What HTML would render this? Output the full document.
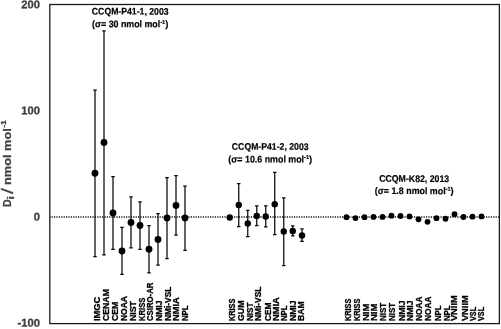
<!DOCTYPE html>
<html><head><meta charset="utf-8"><title>Degrees of equivalence</title>
<style>html,body{margin:0;padding:0;background:#fff}svg{display:block}text{font-family:"Liberation Sans",sans-serif;font-weight:bold}</style></head><body>
<svg width="501" height="329" viewBox="0 0 501 329">
<rect width="501" height="329" fill="#fff"/>
<line x1="49.8" y1="217.0" x2="499.4" y2="217.0" stroke="#111" stroke-width="1.5" stroke-dasharray="1.2 1.2" stroke-dashoffset="0.6"/>
<rect x="49.8" y="4.5" width="449.59999999999997" height="319.1" fill="none" stroke="#1a1a1a" stroke-width="1.3"/>
<text transform="translate(39.9,8.30) rotate(0.15)" text-anchor="end" font-size="11.2" fill="#404040" stroke="#404040" stroke-width="0.3">200</text>
<text transform="translate(39.9,114.20) rotate(0.15)" text-anchor="end" font-size="11.2" fill="#404040" stroke="#404040" stroke-width="0.3">100</text>
<text transform="translate(39.9,220.50) rotate(0.15)" text-anchor="end" font-size="11.2" fill="#404040" stroke="#404040" stroke-width="0.3">0</text>
<text transform="translate(39.9,326.65) rotate(0.15)" text-anchor="end" font-size="11.2" fill="#404040" stroke="#404040" stroke-width="0.3">-100</text>
<g fill="#404040" stroke="#404040" stroke-width="0.25">
<text transform="translate(10.9,206.9) rotate(-90) scale(0.97,1)" font-size="11">D</text>
<text transform="translate(14.3,199.4) rotate(-90) scale(1.5,1)" font-size="8.3">i</text>
<text transform="translate(13.2,194.0) rotate(-90) scale(1.31,1)" font-size="16.7" style="font-weight:normal">/</text>
<text transform="translate(10.9,185.0) rotate(-90) scale(1.162,1)" font-size="11">nmol mol</text>
<text transform="translate(6.3,127.7) rotate(-90) scale(1.06,1)" font-size="8">-1</text>
</g>
<path d="M95 90V256.5M93.25 90h3.5M93.25 256.5h3.5" stroke="#0a0a0a" stroke-width="1.25" fill="none"/>
<circle cx="95" cy="173.25" r="3.4" fill="#000"/>
<text transform="translate(99.55,321.1) rotate(-90)" font-size="9.2" textLength="24.4" lengthAdjust="spacingAndGlyphs" fill="#000" stroke="#000" stroke-width="0.3">IMGC</text>
<path d="M104 30.8V254.75M102.25 30.8h3.5M102.25 254.75h3.5" stroke="#0a0a0a" stroke-width="1.25" fill="none"/>
<circle cx="104" cy="142.5" r="3.4" fill="#000"/>
<text transform="translate(108.63,321.1) rotate(-90)" font-size="9.2" textLength="32.0" lengthAdjust="spacingAndGlyphs" fill="#000" stroke="#000" stroke-width="0.3">CENAM</text>
<path d="M113 176.5V249.25M111.25 176.5h3.5M111.25 249.25h3.5" stroke="#0a0a0a" stroke-width="1.25" fill="none"/>
<circle cx="113" cy="213" r="3.4" fill="#000"/>
<text transform="translate(117.91,321.1) rotate(-90)" font-size="9.2" textLength="19.3" lengthAdjust="spacingAndGlyphs" fill="#000" stroke="#000" stroke-width="0.3">CEM</text>
<path d="M122 227.25V274.25M120.25 227.25h3.5M120.25 274.25h3.5" stroke="#0a0a0a" stroke-width="1.25" fill="none"/>
<circle cx="122" cy="251" r="3.4" fill="#000"/>
<text transform="translate(127.04,321.1) rotate(-90)" font-size="9.2" textLength="25.1" lengthAdjust="spacingAndGlyphs" fill="#000" stroke="#000" stroke-width="0.3">NOAA</text>
<path d="M131 196.75V247.75M129.25 196.75h3.5M129.25 247.75h3.5" stroke="#0a0a0a" stroke-width="1.25" fill="none"/>
<circle cx="131" cy="222.5" r="3.4" fill="#000"/>
<text transform="translate(135.72,321.1) rotate(-90)" font-size="9.2" textLength="20.1" lengthAdjust="spacingAndGlyphs" fill="#000" stroke="#000" stroke-width="0.3">NIST</text>
<path d="M140 201.75V249.25M138.25 201.75h3.5M138.25 249.25h3.5" stroke="#0a0a0a" stroke-width="1.25" fill="none"/>
<circle cx="140" cy="225.5" r="3.4" fill="#000"/>
<text transform="translate(144.50,321.1) rotate(-90)" font-size="9.2" textLength="23.5" lengthAdjust="spacingAndGlyphs" fill="#000" stroke="#000" stroke-width="0.3">KRISS</text>
<path d="M149 225.5V272.75M147.25 225.5h3.5M147.25 272.75h3.5" stroke="#0a0a0a" stroke-width="1.25" fill="none"/>
<circle cx="149" cy="249.25" r="3.4" fill="#000"/>
<text transform="translate(153.18,321.1) rotate(-90)" font-size="9.2" textLength="38.5" lengthAdjust="spacingAndGlyphs" fill="#000" stroke="#000" stroke-width="0.3">CSIRO-AR</text>
<path d="M158 213.5V265M156.25 213.5h3.5M156.25 265h3.5" stroke="#0a0a0a" stroke-width="1.25" fill="none"/>
<circle cx="158" cy="239.5" r="3.4" fill="#000"/>
<text transform="translate(161.76,321.1) rotate(-90)" font-size="9.2" textLength="20.7" lengthAdjust="spacingAndGlyphs" fill="#000" stroke="#000" stroke-width="0.3">NMIJ</text>
<path d="M167 177.5V258.5M165.25 177.5h3.5M165.25 258.5h3.5" stroke="#0a0a0a" stroke-width="1.25" fill="none"/>
<circle cx="167" cy="218" r="3.4" fill="#000"/>
<text transform="translate(170.59,321.1) rotate(-90)" font-size="9.2" textLength="34.5" lengthAdjust="spacingAndGlyphs" fill="#000" stroke="#000" stroke-width="0.3">NMi-VSL</text>
<path d="M176 175.5V235M174.25 175.5h3.5M174.25 235h3.5" stroke="#0a0a0a" stroke-width="1.25" fill="none"/>
<circle cx="176" cy="205.5" r="3.4" fill="#000"/>
<text transform="translate(179.17,321.1) rotate(-90)" font-size="9.2" textLength="23.9" lengthAdjust="spacingAndGlyphs" fill="#000" stroke="#000" stroke-width="0.3">NMIA</text>
<path d="M185 186V250.25M183.25 186h3.5M183.25 250.25h3.5" stroke="#0a0a0a" stroke-width="1.25" fill="none"/>
<circle cx="185" cy="218" r="3.4" fill="#000"/>
<text transform="translate(188.00,321.1) rotate(-90)" font-size="9.2" textLength="15.7" lengthAdjust="spacingAndGlyphs" fill="#000" stroke="#000" stroke-width="0.3">NPL</text>
<circle cx="229.75" cy="217.5" r="3.2" fill="#000"/>
<text transform="translate(234.70,321.1) rotate(-90)" font-size="9.2" textLength="22.5" lengthAdjust="spacingAndGlyphs" fill="#000" stroke="#000" stroke-width="0.3">KRISS</text>
<path d="M238.75 183.5V226.5M237.0 183.5h3.5M237.0 226.5h3.5" stroke="#0a0a0a" stroke-width="1.25" fill="none"/>
<circle cx="238.75" cy="205" r="3.2" fill="#000"/>
<text transform="translate(243.77,321.1) rotate(-90)" font-size="9.2" textLength="20.7" lengthAdjust="spacingAndGlyphs" fill="#000" stroke="#000" stroke-width="0.3">GUM</text>
<path d="M247.75 210.25V236.5M246.0 210.25h3.5M246.0 236.5h3.5" stroke="#0a0a0a" stroke-width="1.25" fill="none"/>
<circle cx="247.75" cy="223.5" r="3.2" fill="#000"/>
<text transform="translate(252.85,321.1) rotate(-90)" font-size="9.2" textLength="18.7" lengthAdjust="spacingAndGlyphs" fill="#000" stroke="#000" stroke-width="0.3">NIST</text>
<path d="M256.75 205.75V225.5M255.0 205.75h3.5M255.0 225.5h3.5" stroke="#0a0a0a" stroke-width="1.25" fill="none"/>
<circle cx="256.75" cy="216" r="3.2" fill="#000"/>
<text transform="translate(261.32,321.1) rotate(-90)" font-size="9.2" textLength="34.6" lengthAdjust="spacingAndGlyphs" fill="#000" stroke="#000" stroke-width="0.3">NMi-VSL</text>
<path d="M265.75 205.75V226.75M264.0 205.75h3.5M264.0 226.75h3.5" stroke="#0a0a0a" stroke-width="1.25" fill="none"/>
<circle cx="265.75" cy="216.5" r="3.2" fill="#000"/>
<text transform="translate(270.65,321.1) rotate(-90)" font-size="9.2" textLength="18.7" lengthAdjust="spacingAndGlyphs" fill="#000" stroke="#000" stroke-width="0.3">CEM</text>
<path d="M274.75 172.25V234.5M273.0 172.25h3.5M273.0 234.5h3.5" stroke="#0a0a0a" stroke-width="1.25" fill="none"/>
<circle cx="274.75" cy="204.25" r="3.2" fill="#000"/>
<text transform="translate(279.28,321.1) rotate(-90)" font-size="9.2" textLength="24.0" lengthAdjust="spacingAndGlyphs" fill="#000" stroke="#000" stroke-width="0.3">NMIA</text>
<path d="M283.75 197.75V265.5M282.0 197.75h3.5M282.0 265.5h3.5" stroke="#0a0a0a" stroke-width="1.25" fill="none"/>
<circle cx="283.75" cy="231.5" r="3.2" fill="#000"/>
<text transform="translate(287.45,321.1) rotate(-90)" font-size="9.2" textLength="15.7" lengthAdjust="spacingAndGlyphs" fill="#000" stroke="#000" stroke-width="0.3">NPL</text>
<path d="M292.75 225.75V235.75M291.0 225.75h3.5M291.0 235.75h3.5" stroke="#0a0a0a" stroke-width="1.25" fill="none"/>
<circle cx="292.75" cy="231" r="3.2" fill="#000"/>
<text transform="translate(295.62,321.1) rotate(-90)" font-size="9.2" textLength="20.7" lengthAdjust="spacingAndGlyphs" fill="#000" stroke="#000" stroke-width="0.3">NMIJ</text>
<path d="M302 228.75V241.25M300.25 228.75h3.5M300.25 241.25h3.5" stroke="#0a0a0a" stroke-width="1.25" fill="none"/>
<circle cx="302" cy="235.5" r="3.2" fill="#000"/>
<text transform="translate(303.80,321.1) rotate(-90)" font-size="9.2" textLength="19.7" lengthAdjust="spacingAndGlyphs" fill="#000" stroke="#000" stroke-width="0.3">BAM</text>
<circle cx="346.5" cy="217.2" r="2.9" fill="#000"/>
<text transform="translate(351.00,321.1) rotate(-90)" font-size="9.2" textLength="22.5" lengthAdjust="spacingAndGlyphs" fill="#000" stroke="#000" stroke-width="0.3">KRISS</text>
<circle cx="355.5" cy="218.1" r="2.9" fill="#000"/>
<text transform="translate(360.10,321.1) rotate(-90)" font-size="9.2" textLength="22.5" lengthAdjust="spacingAndGlyphs" fill="#000" stroke="#000" stroke-width="0.3">KRISS</text>
<circle cx="364.5" cy="217.2" r="2.9" fill="#000"/>
<text transform="translate(368.60,321.1) rotate(-90)" font-size="9.2" textLength="17.5" lengthAdjust="spacingAndGlyphs" fill="#000" stroke="#000" stroke-width="0.3">NIM</text>
<circle cx="373.5" cy="216.9" r="2.9" fill="#000"/>
<text transform="translate(377.20,321.1) rotate(-90)" font-size="9.2" textLength="17.5" lengthAdjust="spacingAndGlyphs" fill="#000" stroke="#000" stroke-width="0.3">NIM</text>
<circle cx="382.5" cy="216.9" r="2.9" fill="#000"/>
<text transform="translate(386.20,321.1) rotate(-90)" font-size="9.2" textLength="18.3" lengthAdjust="spacingAndGlyphs" fill="#000" stroke="#000" stroke-width="0.3">NIST</text>
<circle cx="391.5" cy="215.7" r="2.9" fill="#000"/>
<text transform="translate(395.20,321.1) rotate(-90)" font-size="9.2" textLength="18.3" lengthAdjust="spacingAndGlyphs" fill="#000" stroke="#000" stroke-width="0.3">NIST</text>
<circle cx="400.5" cy="216" r="2.9" fill="#000"/>
<text transform="translate(404.90,321.1) rotate(-90)" font-size="9.2" textLength="20.7" lengthAdjust="spacingAndGlyphs" fill="#000" stroke="#000" stroke-width="0.3">NMIJ</text>
<circle cx="409.5" cy="216.4" r="2.9" fill="#000"/>
<text transform="translate(413.00,321.1) rotate(-90)" font-size="9.2" textLength="20.7" lengthAdjust="spacingAndGlyphs" fill="#000" stroke="#000" stroke-width="0.3">NMIJ</text>
<circle cx="418.5" cy="219.3" r="2.9" fill="#000"/>
<text transform="translate(421.70,321.1) rotate(-90)" font-size="9.2" textLength="24.6" lengthAdjust="spacingAndGlyphs" fill="#000" stroke="#000" stroke-width="0.3">NOAA</text>
<circle cx="427.5" cy="221.8" r="2.9" fill="#000"/>
<text transform="translate(430.90,321.1) rotate(-90)" font-size="9.2" textLength="24.6" lengthAdjust="spacingAndGlyphs" fill="#000" stroke="#000" stroke-width="0.3">NOAA</text>
<circle cx="436.5" cy="218.2" r="2.9" fill="#000"/>
<text transform="translate(440.70,321.1) rotate(-90)" font-size="9.2" textLength="15.7" lengthAdjust="spacingAndGlyphs" fill="#000" stroke="#000" stroke-width="0.3">NPL</text>
<circle cx="445.5" cy="218.75" r="2.9" fill="#000"/>
<text transform="translate(449.50,321.1) rotate(-90)" font-size="9.2" textLength="15.7" lengthAdjust="spacingAndGlyphs" fill="#000" stroke="#000" stroke-width="0.3">NPL</text>
<circle cx="454.5" cy="214.2" r="2.9" fill="#000"/>
<text transform="translate(457.10,321.1) rotate(-90)" font-size="9.2" textLength="25.8" lengthAdjust="spacingAndGlyphs" fill="#000" stroke="#000" stroke-width="0.3">VNIIM</text>
<circle cx="463.5" cy="217" r="2.9" fill="#000"/>
<text transform="translate(467.75,321.1) rotate(-90)" font-size="9.2" textLength="25.8" lengthAdjust="spacingAndGlyphs" fill="#000" stroke="#000" stroke-width="0.3">VNIIM</text>
<circle cx="472.5" cy="216.7" r="2.9" fill="#000"/>
<text transform="translate(476.10,321.1) rotate(-90)" font-size="9.2" textLength="14.3" lengthAdjust="spacingAndGlyphs" fill="#000" stroke="#000" stroke-width="0.3">VSL</text>
<circle cx="481.5" cy="216.4" r="2.9" fill="#000"/>
<text transform="translate(483.90,321.1) rotate(-90)" font-size="9.2" textLength="14.3" lengthAdjust="spacingAndGlyphs" fill="#000" stroke="#000" stroke-width="0.3">VSL</text>
<text transform="translate(91.85,14.5) rotate(0.15)" font-size="9.6" textLength="76.7" lengthAdjust="spacingAndGlyphs" fill="#000" stroke="#000" stroke-width="0.2">CCQM-P41-1, 2003</text>
<text transform="translate(92.11,27.20) rotate(0.15)" font-size="9.6" textLength="68.1" lengthAdjust="spacingAndGlyphs" fill="#000" stroke="#000" stroke-width="0.2">(σ= 30 nmol mol</text>
<text transform="translate(160.25,23.90) rotate(0.15)" font-size="5.6" textLength="5.0" lengthAdjust="spacingAndGlyphs" fill="#000" stroke="#000" stroke-width="0.2">-1</text>
<text transform="translate(165.22,27.20) rotate(0.15)" font-size="9.6" textLength="3.1" lengthAdjust="spacingAndGlyphs" fill="#000" stroke="#000" stroke-width="0.2">)</text>
<text transform="translate(231.85,149.7) rotate(0.15)" font-size="9.6" textLength="76.7" lengthAdjust="spacingAndGlyphs" fill="#000" stroke="#000" stroke-width="0.2">CCQM-P41-2, 2003</text>
<text transform="translate(228.30,162.40) rotate(0.15)" font-size="9.6" textLength="75.8" lengthAdjust="spacingAndGlyphs" fill="#000" stroke="#000" stroke-width="0.2">(σ= 10.6 nmol mol</text>
<text transform="translate(304.07,159.10) rotate(0.15)" font-size="5.6" textLength="5.0" lengthAdjust="spacingAndGlyphs" fill="#000" stroke="#000" stroke-width="0.2">-1</text>
<text transform="translate(309.03,162.40) rotate(0.15)" font-size="9.6" textLength="3.1" lengthAdjust="spacingAndGlyphs" fill="#000" stroke="#000" stroke-width="0.2">)</text>
<text transform="translate(379.18,181.8) rotate(0.15)" font-size="9.6" textLength="70.0" lengthAdjust="spacingAndGlyphs" fill="#000" stroke="#000" stroke-width="0.2">CCQM-K82, 2013</text>
<text transform="translate(374.80,194.00) rotate(0.15)" font-size="9.6" textLength="70.8" lengthAdjust="spacingAndGlyphs" fill="#000" stroke="#000" stroke-width="0.2">(σ= 1.8 nmol mol</text>
<text transform="translate(445.57,190.70) rotate(0.15)" font-size="5.6" textLength="5.0" lengthAdjust="spacingAndGlyphs" fill="#000" stroke="#000" stroke-width="0.2">-1</text>
<text transform="translate(450.54,194.00) rotate(0.15)" font-size="9.6" textLength="3.1" lengthAdjust="spacingAndGlyphs" fill="#000" stroke="#000" stroke-width="0.2">)</text>
</svg></body></html>
